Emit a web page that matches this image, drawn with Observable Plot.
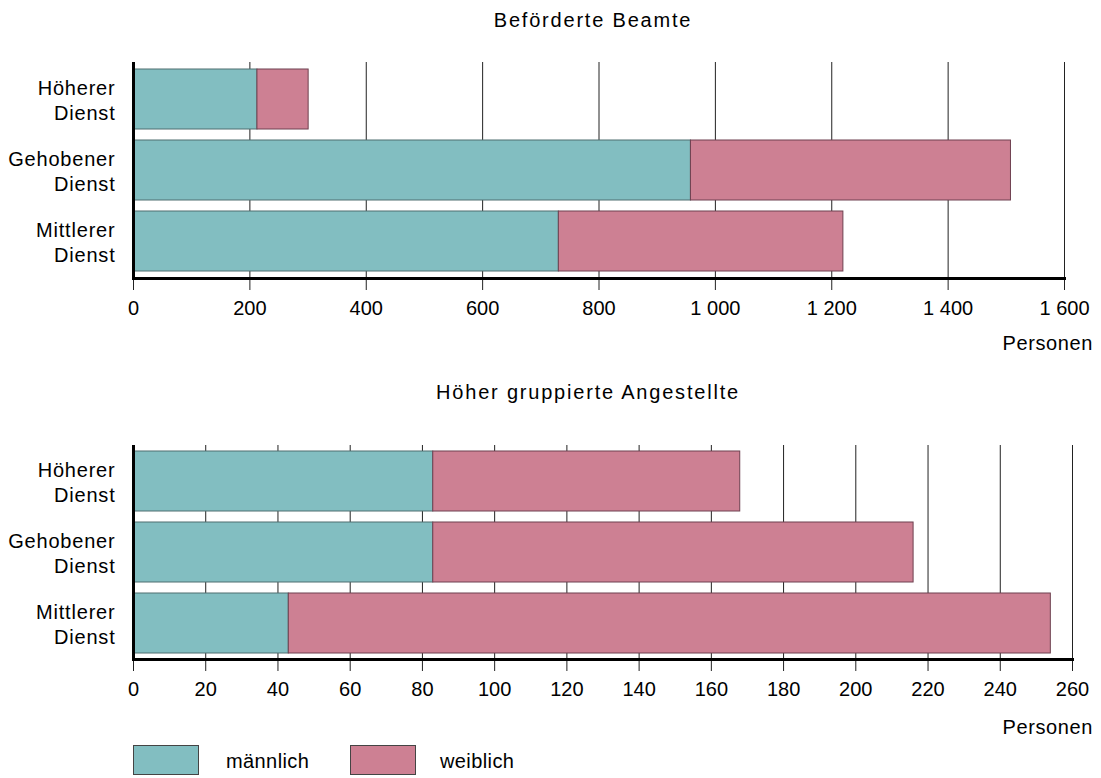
<!DOCTYPE html>
<html><head><meta charset="utf-8">
<script src="https://cdn.jsdelivr.net/npm/d3@7"></script>
<script src="https://cdn.jsdelivr.net/npm/@observablehq/plot@0.6"></script>
<style>
body{margin:0;background:#fff;font-family:"Liberation Sans",Arial,sans-serif;}
#wrap{position:relative;width:1101px;height:778px;overflow:hidden;background:#fff}
.abs{position:absolute;white-space:nowrap;color:#000;font-size:20px;line-height:20px}
.plot{position:absolute;left:0}
.sw{position:absolute;width:66px;height:30px;border:1px solid #444;box-sizing:border-box}
</style></head><body><div id="wrap"></div>
<script>
// ---- data ----
const categories = ["Höherer Dienst", "Gehobener Dienst", "Mittlerer Dienst"];
const seriesNames = ["männlich", "weiblich"];
const seriesColors = ["#82BEC1", "#CD8093"];
const beamteMaennlich = [213, 958, 731];
const beamteWeiblich  = [88, 550, 489];
const angestMaennlich = [83, 83, 43];
const angestWeiblich  = [85, 133, 211];
const beamteTicks = [0, 200, 400, 600, 800, 1000, 1200, 1400, 1600];
const angestTicks = [0, 20, 40, 60, 80, 100, 120, 140, 160, 180, 200, 220, 240, 260];
const titles = ["Beförderte Beamte", "Höher gruppierte Angestellte"];
const unitLabel = "Personen";

const fmt = d3.formatLocale({decimal: ",", thousands: " ", grouping: [3], currency: ["", ""]}).format(",d");

function rows(m, w) {
  const out = [];
  categories.forEach((c, i) => {
    out.push({cat: c, sex: seriesNames[0], value: m[i]});
    out.push({cat: c, sex: seriesNames[1], value: w[i]});
  });
  return out;
}

function chart(data, ticks, marginRight, height) {
  const xmax = ticks[ticks.length - 1];
  return Plot.plot({
    width: 1101,
    height,
    marginTop: 62,
    marginBottom: 82,
    marginLeft: 133,
    marginRight,
    style: {fontFamily: "'Liberation Sans', Arial, sans-serif", fontSize: "20px", color: "#000", background: "transparent"},
    x: {domain: [0, xmax], ticks, tickFormat: fmt, label: null},
    y: {domain: categories, paddingInner: 0.15, paddingOuter: 0.08, label: null},
    color: {domain: seriesNames, range: seriesColors},
    marks: [
      Plot.gridX(ticks, {stroke: "#222", strokeOpacity: 1, strokeWidth: 1}),
      Plot.axisX(ticks, {tickSize: 12, tickPadding: 10, tickFormat: fmt, stroke: "#222", label: null}),
      Plot.axisY({tickSize: 0, tickPadding: 18, lineHeight: 1.25, tickFormat: d => d.replace(" ", "\n"), label: null}),
      Plot.barX(data, Plot.stackX({x: "value", y: "cat", fill: "sex", order: null,
        stroke: d => d.sex, strokeWidth: 1})),
      Plot.ruleX([0], {stroke: "#000", strokeWidth: 3}),
      Plot.frame({anchor: "bottom", stroke: "#000", strokeWidth: 3})
    ]
  });
}

const wrap = document.getElementById("wrap");

function addText(txt, css) {
  const d = document.createElement("div");
  d.className = "abs";
  d.textContent = txt;
  Object.assign(d.style, css);
  wrap.appendChild(d);
  return d;
}

const p1 = chart(rows(beamteMaennlich, beamteWeiblich), beamteTicks, 37, 360);
p1.classList.add("plot"); p1.style.top = "0px";
wrap.appendChild(p1);

const p2 = chart(rows(angestMaennlich, angestWeiblich), angestTicks, 29, 358);
p2.classList.add("plot"); p2.style.top = "383px";
wrap.appendChild(p2);

// bar outlines darker
wrap.querySelectorAll("svg g[aria-label='bar'] rect").forEach(r => {
  const f = r.getAttribute("fill");
  r.setAttribute("stroke", f === seriesColors[0] ? "#4f6f71" : "#6e4150");
});
// slightly spaced category labels
wrap.querySelectorAll("svg g[aria-label='y-axis tick label']").forEach(g => {
  g.style.letterSpacing = "0.8px";
});

addText(titles[0], {left: "593px", top: "10px", transform: "translateX(-50%)", letterSpacing: "1.8px"});
addText(titles[1], {left: "588px", top: "382px", transform: "translateX(-50%)", letterSpacing: "1.8px"});
addText(unitLabel, {right: "8px", top: "333px", letterSpacing: "0.6px"});
addText(unitLabel, {right: "8px", top: "717px", letterSpacing: "0.6px"});

// legend
seriesNames.forEach((name, i) => {
  const sw = document.createElement("div");
  sw.className = "sw";
  sw.style.left = (133 + i * 217) + "px";
  sw.style.top = "745px";
  sw.style.background = seriesColors[i];
  wrap.appendChild(sw);
  addText(name, {left: (226 + i * 214) + "px", top: "751px", letterSpacing: "0.4px"});
});
</script>
</body></html>
